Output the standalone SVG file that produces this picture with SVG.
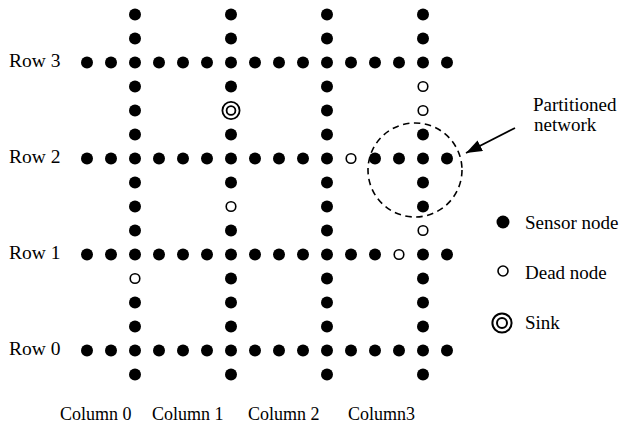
<svg xmlns="http://www.w3.org/2000/svg" width="622" height="424" viewBox="0 0 622 424">
  <style>
    .lbl { font-family: "Liberation Serif", "Times New Roman", serif; font-size: 19px; fill: #000; }
    .row { font-size: 19.5px; }
    .col { font-size: 18px; }
    .s { fill: #000; }
    .d { fill: #fff; stroke: #000; stroke-width: 1.6; }
    .ring { fill: none; stroke: #000; stroke-width: 1.8; }
    .edge { fill: none; stroke: #000; stroke-width: 1.8; }
    .zone { fill: none; stroke: #000; stroke-width: 1.6; stroke-dasharray: 6.5 4.5; }
  </style>
  <defs>
    <circle id="sn" r="6" class="s"/>
    <circle id="dn" r="4.8" class="d"/>
    <marker id="arrow" viewBox="0 0 16 12" refX="16" refY="6" markerWidth="16" markerHeight="12" markerUnits="userSpaceOnUse" orient="auto">
      <path d="M0,0 L16,6 L0,12 Z" fill="#000"/>
    </marker>
  </defs>
  <rect width="622" height="424" fill="#fff"/>

  <!-- axis and annotation labels -->
  <g id="labels">
    <text class="lbl row" x="9" y="67">Row 3</text>
    <text class="lbl row" x="9" y="163">Row 2</text>
    <text class="lbl row" x="9" y="259">Row 1</text>
    <text class="lbl row" x="9" y="355">Row 0</text>
    <text class="lbl col" x="60" y="420">Column 0</text>
    <text class="lbl col" x="152" y="420">Column 1</text>
    <text class="lbl col" x="248" y="420">Column 2</text>
    <text class="lbl col" x="348" y="420">Column3</text>
    <text class="lbl" x="533" y="111">Partitioned</text>
    <text class="lbl" x="534" y="131">network</text>
  </g>

  <!-- connectors: partition boundary and pointer -->
  <g id="connectors">
    <circle class="zone" cx="415" cy="170" r="47"/>
    <line class="edge" x1="515" y1="128" x2="466" y2="153" marker-end="url(#arrow)"/>
  </g>

  <!-- Row 3 (y=62.5) -->
  <g id="row3">
    <g id="r3-0"><use href="#sn" x="87" y="62.5"/></g>
    <g id="r3-1"><use href="#sn" x="111" y="62.5"/></g>
    <g id="r3-2"><use href="#sn" x="135" y="62.5"/></g>
    <g id="r3-3"><use href="#sn" x="159" y="62.5"/></g>
    <g id="r3-4"><use href="#sn" x="183" y="62.5"/></g>
    <g id="r3-5"><use href="#sn" x="207" y="62.5"/></g>
    <g id="r3-6"><use href="#sn" x="231" y="62.5"/></g>
    <g id="r3-7"><use href="#sn" x="255" y="62.5"/></g>
    <g id="r3-8"><use href="#sn" x="279" y="62.5"/></g>
    <g id="r3-9"><use href="#sn" x="303" y="62.5"/></g>
    <g id="r3-10"><use href="#sn" x="327" y="62.5"/></g>
    <g id="r3-11"><use href="#sn" x="351" y="62.5"/></g>
    <g id="r3-12"><use href="#sn" x="375" y="62.5"/></g>
    <g id="r3-13"><use href="#sn" x="399" y="62.5"/></g>
    <g id="r3-14"><use href="#sn" x="423" y="62.5"/></g>
    <g id="r3-15"><use href="#sn" x="447" y="62.5"/></g>
  </g>

  <!-- Row 2 (y=158.5) -->
  <g id="row2">
    <g id="r2-0"><use href="#sn" x="87" y="158.5"/></g>
    <g id="r2-1"><use href="#sn" x="111" y="158.5"/></g>
    <g id="r2-2"><use href="#sn" x="135" y="158.5"/></g>
    <g id="r2-3"><use href="#sn" x="159" y="158.5"/></g>
    <g id="r2-4"><use href="#sn" x="183" y="158.5"/></g>
    <g id="r2-5"><use href="#sn" x="207" y="158.5"/></g>
    <g id="r2-6"><use href="#sn" x="231" y="158.5"/></g>
    <g id="r2-7"><use href="#sn" x="255" y="158.5"/></g>
    <g id="r2-8"><use href="#sn" x="279" y="158.5"/></g>
    <g id="r2-9"><use href="#sn" x="303" y="158.5"/></g>
    <g id="r2-10"><use href="#sn" x="327" y="158.5"/></g>
    <g id="r2-11"><use href="#dn" x="351" y="158.5"/></g>
    <g id="r2-12"><use href="#sn" x="375" y="158.5"/></g>
    <g id="r2-13"><use href="#sn" x="399" y="158.5"/></g>
    <g id="r2-14"><use href="#sn" x="423" y="158.5"/></g>
    <g id="r2-15"><use href="#sn" x="447" y="158.5"/></g>
  </g>

  <!-- Row 1 (y=254.5) -->
  <g id="row1">
    <g id="r1-0"><use href="#sn" x="87" y="254.5"/></g>
    <g id="r1-1"><use href="#sn" x="111" y="254.5"/></g>
    <g id="r1-2"><use href="#sn" x="135" y="254.5"/></g>
    <g id="r1-3"><use href="#sn" x="159" y="254.5"/></g>
    <g id="r1-4"><use href="#sn" x="183" y="254.5"/></g>
    <g id="r1-5"><use href="#sn" x="207" y="254.5"/></g>
    <g id="r1-6"><use href="#sn" x="231" y="254.5"/></g>
    <g id="r1-7"><use href="#sn" x="255" y="254.5"/></g>
    <g id="r1-8"><use href="#sn" x="279" y="254.5"/></g>
    <g id="r1-9"><use href="#sn" x="303" y="254.5"/></g>
    <g id="r1-10"><use href="#sn" x="327" y="254.5"/></g>
    <g id="r1-11"><use href="#sn" x="351" y="254.5"/></g>
    <g id="r1-12"><use href="#sn" x="375" y="254.5"/></g>
    <g id="r1-13"><use href="#dn" x="399" y="254.5"/></g>
    <g id="r1-14"><use href="#sn" x="423" y="254.5"/></g>
    <g id="r1-15"><use href="#sn" x="447" y="254.5"/></g>
  </g>

  <!-- Row 0 (y=350.5) -->
  <g id="row0">
    <g id="r0-0"><use href="#sn" x="87" y="350.5"/></g>
    <g id="r0-1"><use href="#sn" x="111" y="350.5"/></g>
    <g id="r0-2"><use href="#sn" x="135" y="350.5"/></g>
    <g id="r0-3"><use href="#sn" x="159" y="350.5"/></g>
    <g id="r0-4"><use href="#sn" x="183" y="350.5"/></g>
    <g id="r0-5"><use href="#sn" x="207" y="350.5"/></g>
    <g id="r0-6"><use href="#sn" x="231" y="350.5"/></g>
    <g id="r0-7"><use href="#sn" x="255" y="350.5"/></g>
    <g id="r0-8"><use href="#sn" x="279" y="350.5"/></g>
    <g id="r0-9"><use href="#sn" x="303" y="350.5"/></g>
    <g id="r0-10"><use href="#sn" x="327" y="350.5"/></g>
    <g id="r0-11"><use href="#sn" x="351" y="350.5"/></g>
    <g id="r0-12"><use href="#sn" x="375" y="350.5"/></g>
    <g id="r0-13"><use href="#sn" x="399" y="350.5"/></g>
    <g id="r0-14"><use href="#sn" x="423" y="350.5"/></g>
    <g id="r0-15"><use href="#sn" x="447" y="350.5"/></g>
  </g>

  <!-- Column 0 (x=135), nodes between rows -->
  <g id="col0">
    <g id="c0-0"><use href="#sn" x="135" y="14.5"/></g>
    <g id="c0-1"><use href="#sn" x="135" y="38.5"/></g>
    <g id="c0-3"><use href="#sn" x="135" y="86.5"/></g>
    <g id="c0-4"><use href="#sn" x="135" y="110.5"/></g>
    <g id="c0-5"><use href="#sn" x="135" y="134.5"/></g>
    <g id="c0-7"><use href="#sn" x="135" y="182.5"/></g>
    <g id="c0-8"><use href="#sn" x="135" y="206.5"/></g>
    <g id="c0-9"><use href="#sn" x="135" y="230.5"/></g>
    <g id="c0-11"><use href="#dn" x="135" y="278.5"/></g>
    <g id="c0-12"><use href="#sn" x="135" y="302.5"/></g>
    <g id="c0-13"><use href="#sn" x="135" y="326.5"/></g>
    <g id="c0-15"><use href="#sn" x="135" y="374.5"/></g>
  </g>

  <!-- Column 1 (x=231) -->
  <g id="col1">
    <g id="c1-0"><use href="#sn" x="231" y="14.5"/></g>
    <g id="c1-1"><use href="#sn" x="231" y="38.5"/></g>
    <g id="c1-3"><use href="#sn" x="231" y="86.5"/></g>
    <g id="sink">
      <circle class="ring" cx="231" cy="110.5" r="8.6"/>
      <circle class="ring" cx="231" cy="110.5" r="4.4"/>
    </g>
    <g id="c1-5"><use href="#sn" x="231" y="134.5"/></g>
    <g id="c1-7"><use href="#sn" x="231" y="182.5"/></g>
    <g id="c1-8"><use href="#dn" x="231" y="206.5"/></g>
    <g id="c1-9"><use href="#sn" x="231" y="230.5"/></g>
    <g id="c1-11"><use href="#sn" x="231" y="278.5"/></g>
    <g id="c1-12"><use href="#sn" x="231" y="302.5"/></g>
    <g id="c1-13"><use href="#sn" x="231" y="326.5"/></g>
    <g id="c1-15"><use href="#sn" x="231" y="374.5"/></g>
  </g>

  <!-- Column 2 (x=327) -->
  <g id="col2">
    <g id="c2-0"><use href="#sn" x="327" y="14.5"/></g>
    <g id="c2-1"><use href="#sn" x="327" y="38.5"/></g>
    <g id="c2-3"><use href="#sn" x="327" y="86.5"/></g>
    <g id="c2-4"><use href="#sn" x="327" y="110.5"/></g>
    <g id="c2-5"><use href="#sn" x="327" y="134.5"/></g>
    <g id="c2-7"><use href="#sn" x="327" y="182.5"/></g>
    <g id="c2-8"><use href="#sn" x="327" y="206.5"/></g>
    <g id="c2-9"><use href="#sn" x="327" y="230.5"/></g>
    <g id="c2-11"><use href="#sn" x="327" y="278.5"/></g>
    <g id="c2-12"><use href="#sn" x="327" y="302.5"/></g>
    <g id="c2-13"><use href="#sn" x="327" y="326.5"/></g>
    <g id="c2-15"><use href="#sn" x="327" y="374.5"/></g>
  </g>

  <!-- Column 3 (x=423) -->
  <g id="col3">
    <g id="c3-0"><use href="#sn" x="423" y="14.5"/></g>
    <g id="c3-1"><use href="#sn" x="423" y="38.5"/></g>
    <g id="c3-3"><use href="#dn" x="423" y="86.5"/></g>
    <g id="c3-4"><use href="#dn" x="423" y="110.5"/></g>
    <g id="c3-5"><use href="#sn" x="423" y="134.5"/></g>
    <g id="c3-7"><use href="#sn" x="423" y="182.5"/></g>
    <g id="c3-8"><use href="#sn" x="423" y="206.5"/></g>
    <g id="c3-9"><use href="#dn" x="423" y="230.5"/></g>
    <g id="c3-11"><use href="#sn" x="423" y="278.5"/></g>
    <g id="c3-12"><use href="#sn" x="423" y="302.5"/></g>
    <g id="c3-13"><use href="#sn" x="423" y="326.5"/></g>
    <g id="c3-15"><use href="#sn" x="423" y="374.5"/></g>
  </g>

  <!-- legend -->
  <g id="legend-sensor">
    <circle class="s" cx="503" cy="222" r="6.5"/>
    <text class="lbl" x="525" y="229">Sensor node</text>
  </g>
  <g id="legend-dead">
    <circle class="d" cx="503" cy="271" r="5"/>
    <text class="lbl" x="525" y="279">Dead node</text>
  </g>
  <g id="legend-sink">
    <circle class="ring" cx="502" cy="323" r="9.6" style="stroke-width:2"/>
    <circle class="ring" cx="502" cy="323" r="5" style="stroke-width:2"/>
    <text class="lbl" x="525" y="329">Sink</text>
  </g>
</svg>
